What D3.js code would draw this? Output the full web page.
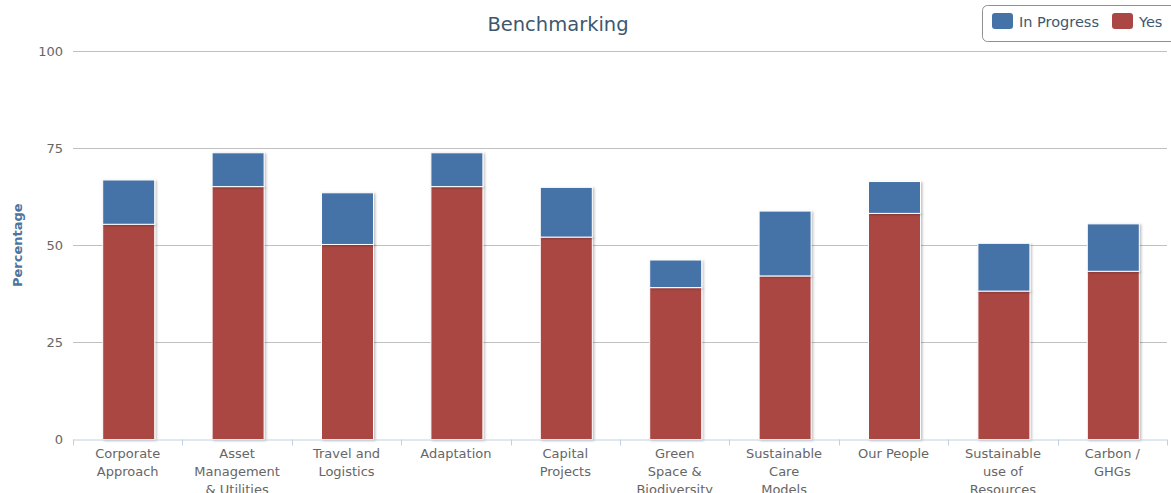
<!DOCTYPE html>
<html>
<head>
<meta charset="utf-8">
<title>Benchmarking</title>
<script src="https://d3js.org/d3.v7.min.js"></script>
<style>
  body { margin: 0; background: #fff; }
  text { font-family: "DejaVu Sans", Verdana, sans-serif; }
</style>
</head>
<body>
<div id="chart"></div>
<script>
var categories = ["Corporate\nApproach", "Asset\nManagement\n& Utilities", "Travel and\nLogistics",
    "Adaptation", "Capital\nProjects", "Green\nSpace &\nBiodiversity", "Sustainable\nCare\nModels",
    "Our People", "Sustainable\nuse of\nResources", "Carbon /\nGHGs"];
var yes = [55.4, 65.1, 50.2, 65.1, 52.1, 39.1, 42.1, 58.2, 38.2, 43.3];
var inProgress = [11.4, 8.7, 13.3, 8.7, 12.8, 7.1, 16.7, 8.2, 12.3, 12.2];
var yTicks = [0, 25, 50, 75, 100];

var width = 1171, height = 493;
var margin = { top: 51, right: 4, bottom: 53.5, left: 73 };
var innerW = width - margin.left - margin.right,
    innerH = height - margin.top - margin.bottom;

var svg = d3.select("#chart").append("svg")
    .attr("width", width).attr("height", height);

// soft shadow like the old highcharts columns
var defs = svg.append("defs");
var f = defs.append("filter").attr("id", "shadow")
    .attr("x", "-10%").attr("y", "-10%").attr("width", "130%").attr("height", "130%");
f.append("feDropShadow").attr("dx", 1.5).attr("dy", 1).attr("stdDeviation", 1)
    .attr("flood-color", "#000").attr("flood-opacity", 0.25);

var g = svg.append("g").attr("transform", "translate(" + margin.left + "," + margin.top + ")");

var x = d3.scaleBand().domain(d3.range(categories.length)).range([0, innerW]).paddingInner(0).paddingOuter(0);
var y = d3.scaleLinear().domain([0, 100]).range([innerH, 0]);

// grid
g.selectAll(".grid").data(yTicks.filter(function(d) { return d > 0; })).enter()
    .append("line")
    .attr("x1", 0).attr("x2", innerW)
    .attr("y1", function(d) { return Math.round(y(d)) + 0.5; })
    .attr("y2", function(d) { return Math.round(y(d)) + 0.5; })
    .attr("stroke", "#c0c0c0").attr("stroke-width", 1);

// y labels
g.selectAll(".ylab").data(yTicks).enter().append("text")
    .attr("x", -10).attr("y", function(d) { return y(d) + 4.5; })
    .attr("text-anchor", "end")
    .attr("font-size", 13).attr("fill", "#666")
    .text(function(d) { return d; });

// stacked columns
var series = [
    { name: "Yes", color: "#AA4643", vals: yes, base: function(i) { return 0; } },
    { name: "In Progress", color: "#4572A7", vals: inProgress, base: function(i) { return yes[i]; } }
];
var barW = 52;
series.forEach(function(s) {
    g.selectAll(".bar-" + s.name.replace(" ", "")).data(s.vals).enter().append("rect")
        .attr("x", function(d, i) { return x(i) + x.bandwidth() / 2 - barW / 2 + 1; })
        .attr("y", function(d, i) { return y(s.base(i) + d); })
        .attr("width", barW)
        .attr("height", function(d, i) { return y(s.base(i)) - y(s.base(i) + d); })
        .attr("fill", s.color)
        .attr("stroke", "#fff").attr("stroke-width", 1)
        .attr("filter", "url(#shadow)");
});

// x axis line + ticks
g.append("line").attr("x1", 0).attr("x2", innerW)
    .attr("y1", innerH + 0.5).attr("y2", innerH + 0.5)
    .attr("stroke", "#c0d0e0").attr("stroke-width", 1);
g.selectAll(".xtick").data(d3.range(categories.length + 1)).enter().append("line")
    .attr("x1", function(d) { return Math.round(d * x.bandwidth()) + 0.5; })
    .attr("x2", function(d) { return Math.round(d * x.bandwidth()) + 0.5; })
    .attr("y1", innerH).attr("y2", innerH + 6)
    .attr("stroke", "#c0d0e0");

// x labels
var xl = g.selectAll(".xlab").data(categories).enter().append("text")
    .attr("text-anchor", "middle")
    .attr("font-size", 13).attr("fill", "#666")
    .attr("transform", function(d, i) { return "translate(" + (x(i) + x.bandwidth() / 2) + "," + (innerH + 18) + ")"; });
xl.each(function(d) {
    var t = d3.select(this);
    d.split("\n").forEach(function(line, k) {
        t.append("tspan").attr("x", 0).attr("y", k * 18).text(line);
    });
});

// y axis title
svg.append("text")
    .attr("transform", "translate(22," + (margin.top + innerH / 2) + ") rotate(-90)")
    .attr("text-anchor", "middle")
    .attr("font-size", 13).attr("font-weight", "bold").attr("fill", "#4d759e")
    .text("Percentage");

// title
svg.append("text")
    .attr("x", 558).attr("y", 31)
    .attr("text-anchor", "middle")
    .attr("font-size", 19.5).attr("fill", "#3E576F")
    .text("Benchmarking");

// legend
var lg = svg.append("g").attr("transform", "translate(982,5)");
lg.append("rect").attr("x", 0.5).attr("y", 0.5).attr("width", 200).attr("height", 36)
    .attr("rx", 5).attr("fill", "#fff").attr("stroke", "#909090");
var legendItems = [series[1], series[0]];
var lx = [10, 130];
legendItems.forEach(function(s, i) {
    lg.append("rect").attr("x", lx[i]).attr("y", 8).attr("width", 21).attr("height", 16)
        .attr("rx", 3).attr("fill", s.color);
    lg.append("text").attr("x", lx[i] + 27).attr("y", 22)
        .attr("font-size", 14.5).attr("fill", "#3E576F")
        .text(s.name);
});
</script>
</body>
</html>
